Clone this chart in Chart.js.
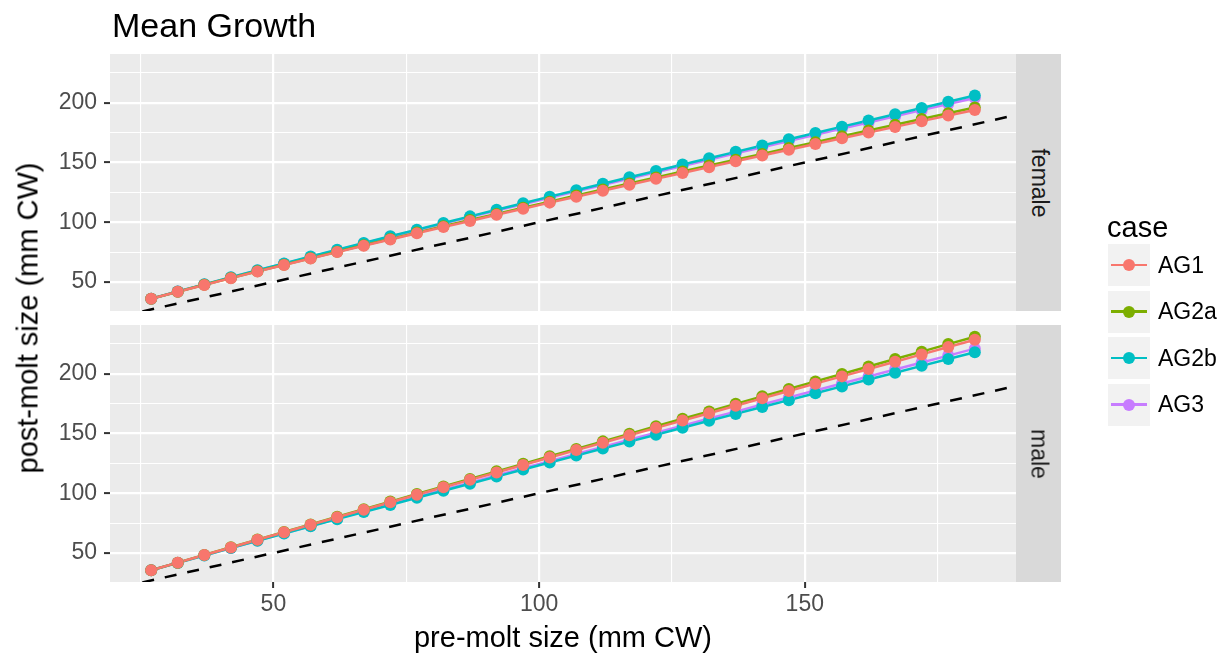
<!DOCTYPE html>
<html>
<head>
<meta charset="utf-8">
<script src="https://cdn.jsdelivr.net/npm/chart.js@4.4.1/dist/chart.umd.min.js"></script>
<style>
  body { margin: 0; background: #fff; font-family: "Liberation Sans", Arial, sans-serif; }
  #wrap { position: relative; width: 1230px; height: 664px; overflow: hidden; }
  canvas { position: absolute; left: 0; top: 0; }
  .txt { position: absolute; white-space: nowrap; line-height: 1; }
  .strip { position: absolute; background: #D9D9D9; }
  .cell { position: absolute; width: 46px; height: 46px; }
  .cell .bg { position: absolute; left: 2px; top: 2px; width: 42px; height: 42px; background: #F2F2F2; }
  .cell .ln { position: absolute; left: 5px; top: 21.75px; width: 36px; height: 2.5px; }
  .cell .dot { position: absolute; left: 17px; top: 17px; width: 12px; height: 12px; border-radius: 50%; }
</style>
</head>
<body>
<div id="wrap">
  <canvas id="femaleCanvas" width="1230" height="664"></canvas>
  <canvas id="maleCanvas" width="1230" height="664"></canvas>

  <div class="txt" style="left:112px; top:8px; font-size:34px; color:#000;">Mean Growth</div>
  <div class="txt" style="left:563px; top:623px; font-size:29px; color:#000; transform:translateX(-50%);">pre-molt size (mm CW)</div>
  <div class="txt" style="left:28px; top:318px; font-size:29px; color:#000; transform:translate(-50%,-50%) rotate(-90deg);">post-molt size (mm CW)</div>

  <div class="strip" style="left:1016px; top:54px; width:45px; height:257px;"></div>
  <div class="strip" style="left:1016px; top:325px; width:45px; height:257px;"></div>
  <div class="txt" style="left:1038.5px; top:182.5px; font-size:23px; color:#1A1A1A; transform:translate(-50%,-50%) rotate(90deg);">female</div>
  <div class="txt" style="left:1038.5px; top:453.5px; font-size:23px; color:#1A1A1A; transform:translate(-50%,-50%) rotate(90deg);">male</div>

  <div class="txt" style="left:1107px; top:213px; font-size:29px; color:#000;">case</div>
  <div id="legend"></div>
</div>

<script>
// x values: pre-molt size (mm CW)
const preMolt = [27, 32, 37, 42, 47, 52, 57, 62, 67, 72, 77, 82, 87, 92, 97, 102,
  107, 112, 117, 122, 127, 132, 137, 142, 147, 152, 157, 162, 167, 172, 177, 182];

// female mean post-molt size
const femaleAG1 = [36.0, 41.8, 47.5, 53.2, 58.7, 64.2, 69.6, 75.0, 80.3, 85.6, 90.8, 96.0, 101.1, 106.2, 111.3, 116.4,
  121.4, 126.4, 131.4, 136.3, 141.2, 146.1, 151.0, 155.8, 160.7, 165.5, 170.3, 175.1, 179.8, 184.6, 189.3, 194.0];
const femaleAG2a = [36.0, 41.8, 47.6, 53.3, 58.9, 64.4, 69.9, 75.3, 80.7, 86.0, 91.3, 96.6, 101.8, 106.9, 112.1, 117.2,
  122.3, 127.4, 132.4, 137.4, 142.4, 147.4, 152.3, 157.2, 162.2, 167.0, 171.9, 176.8, 181.6, 186.4, 191.2, 196.0];
const femaleAG2b = [36.0, 42.0, 48.0, 53.9, 59.8, 65.5, 71.3, 77.0, 82.6, 88.2, 93.8, 99.4, 104.9, 110.4, 115.9, 121.4,
  126.8, 132.2, 137.6, 142.9, 148.3, 153.6, 158.9, 164.2, 169.5, 174.7, 180.0, 185.2, 190.4, 195.6, 200.8, 206.0];
const femaleAG3 = [36.0, 42.0, 47.9, 53.8, 59.6, 65.3, 71.0, 76.6, 82.2, 87.8, 93.3, 98.8, 104.3, 109.7, 115.1, 120.5,
  125.9, 131.2, 136.5, 141.8, 147.1, 152.3, 157.6, 162.8, 168.0, 173.2, 178.4, 183.5, 188.7, 193.8, 198.9, 204.0];

// male mean post-molt size
const maleAG1 = [35.5, 41.9, 48.3, 54.6, 61.0, 67.3, 73.6, 79.9, 86.2, 92.4, 98.7, 105.0, 111.2, 117.4, 123.6, 129.9,
  136.1, 142.3, 148.5, 154.7, 160.8, 167.0, 173.2, 179.4, 185.5, 191.7, 197.8, 204.0, 210.1, 216.2, 222.4, 228.5];
const maleAG2a = [35.5, 41.9, 48.4, 54.8, 61.2, 67.5, 73.9, 80.3, 86.6, 93.0, 99.3, 105.6, 111.9, 118.3, 124.6, 130.9,
  137.1, 143.4, 149.7, 156.0, 162.3, 168.5, 174.8, 181.1, 187.3, 193.6, 199.8, 206.1, 212.3, 218.5, 224.8, 231.0];
const maleAG2b = [35.5, 41.7, 47.9, 54.1, 60.2, 66.2, 72.3, 78.3, 84.3, 90.2, 96.2, 102.1, 108.0, 113.9, 119.8, 125.7,
  131.5, 137.4, 143.2, 149.0, 154.8, 160.6, 166.4, 172.2, 177.9, 183.7, 189.4, 195.2, 200.9, 206.6, 212.3, 218.0];
const maleAG3 = [35.5, 41.8, 48.0, 54.2, 60.4, 66.5, 72.6, 78.8, 84.8, 90.9, 96.9, 102.9, 108.9, 114.9, 120.9, 126.9,
  132.8, 138.8, 144.7, 150.6, 156.5, 162.5, 168.3, 174.2, 180.1, 186.0, 191.8, 197.7, 203.5, 209.4, 215.2, 221.0];

const caseNames = ['AG1', 'AG2a', 'AG2b', 'AG3'];
const caseColors = ['#F8766D', '#7CAE00', '#00BFC4', '#C77CFF'];

// y = x reference line
const identityLine = [0, 250];

const xMajorTicks = [50, 100, 150];
const xMinorTicks = [25, 75, 125, 175];
const yMajorTicks = [50, 100, 150, 200];
const yMinorTicks = [75, 125, 175, 225];

const xRange = [19.25, 189.75];
const yRange = [25.7, 240.8];

const fontFamily = '"Liberation Sans", Arial, sans-serif';

// grey panel background
const panelBg = {
  id: 'panelBg',
  beforeDraw(chart) {
    const a = chart.chartArea;
    const ctx = chart.ctx;
    ctx.save();
    ctx.fillStyle = '#EBEBEB';
    ctx.fillRect(a.left, a.top, a.right - a.left, a.bottom - a.top);
    ctx.restore();
  }
};

function gridOpts(major, showTicks) {
  return {
    color: '#FFFFFF',
    lineWidth: c => (c.tick && major.includes(c.tick.value)) ? 2.2 : 1.1,
    drawTicks: showTicks,
    tickLength: 6,
    tickWidth: 2,
    tickColor: c => (c.tick && major.includes(c.tick.value)) ? '#333333' : 'rgba(0,0,0,0)'
  };
}

function makePanel(id, series, bottom) {
  const datasets = [];
  series.forEach((vals, i) => {
    const pts = preMolt.map((x, j) => ({ x: x, y: vals[j] }));
    // points (drawn above all lines)
    datasets.push({
      label: caseNames[i],
      data: pts,
      showLine: false,
      pointRadius: 6,
      pointBorderWidth: 0,
      pointBackgroundColor: caseColors[i],
      borderColor: caseColors[i],
      order: 1
    });
    datasets.push({
      label: caseNames[i] + ' line',
      data: pts,
      borderColor: caseColors[i],
      borderWidth: 2.5,
      pointRadius: 0,
      tension: 0,
      order: 2
    });
  });
  datasets.push({
    label: 'y = x',
    data: identityLine.map(v => ({ x: v, y: v })),
    borderColor: '#000000',
    borderWidth: 2.5,
    borderDash: [12, 11],
    pointRadius: 0,
    clip: 0,
    order: 3
  });

  return new Chart(document.getElementById(id), {
    type: 'line',
    data: { datasets: datasets },
    plugins: [panelBg],
    options: {
      responsive: false,
      animation: false,
      layout: {
        padding: bottom ? { top: 325, bottom: 0, left: 0, right: 214 }
                        : { top: 54, bottom: 353, left: 0, right: 214 }
      },
      plugins: { legend: { display: false }, tooltip: { enabled: false } },
      scales: {
        x: {
          type: 'linear',
          min: xRange[0],
          max: xRange[1],
          afterBuildTicks: s => { s.ticks = xMinorTicks.concat(xMajorTicks).sort((a, b) => a - b).map(v => ({ value: v })); },
          afterFit: s => { s.height = bottom ? 82 : 0; },
          border: { display: false },
          grid: gridOpts(xMajorTicks, bottom),
          ticks: {
            display: bottom,
            autoSkip: false,
            maxRotation: 0,
            padding: 3,
            color: '#4D4D4D',
            font: { family: fontFamily, size: 23 },
            callback: v => xMajorTicks.includes(v) ? String(v) : ''
          }
        },
        y: {
          type: 'linear',
          min: yRange[0],
          max: yRange[1],
          afterBuildTicks: s => { s.ticks = yMinorTicks.concat(yMajorTicks).sort((a, b) => a - b).map(v => ({ value: v })); },
          afterFit: s => { s.width = 110; },
          border: { display: false },
          grid: gridOpts(yMajorTicks, true),
          ticks: {
            autoSkip: false,
            padding: 7,
            color: '#4D4D4D',
            font: { family: fontFamily, size: 23 },
            callback: v => yMajorTicks.includes(v) ? String(v) : ''
          }
        }
      }
    }
  });
}

makePanel('femaleCanvas', [femaleAG1, femaleAG2a, femaleAG2b, femaleAG3], false);
makePanel('maleCanvas', [maleAG1, maleAG2a, maleAG2b, maleAG3], true);

// legend keys
const legend = document.getElementById('legend');
caseNames.forEach((name, i) => {
  const top = 242 + i * 46.5;
  const cell = document.createElement('div');
  cell.className = 'cell';
  cell.style.left = '1106px';
  cell.style.top = top + 'px';
  cell.innerHTML = '<div class="bg"></div><div class="ln" style="background:' + caseColors[i] +
    '"></div><div class="dot" style="background:' + caseColors[i] + '"></div>';
  legend.appendChild(cell);
  const lab = document.createElement('div');
  lab.className = 'txt';
  lab.style.left = '1158px';
  lab.style.top = (top + 23 - 11.5) + 'px';
  lab.style.fontSize = '23px';
  lab.style.color = '#000';
  lab.textContent = name;
  legend.appendChild(lab);
});
</script>
</body>
</html>
